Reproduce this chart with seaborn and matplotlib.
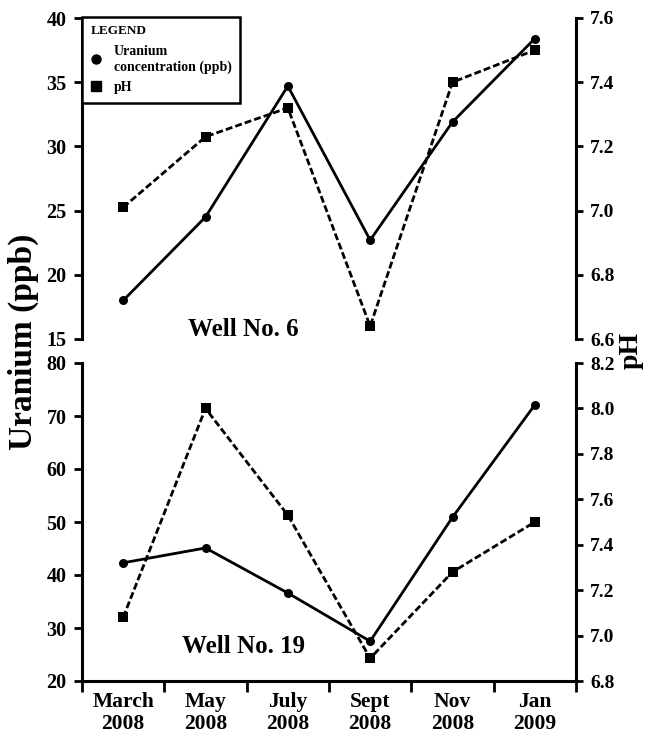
import numpy as np
import pandas as pd
import matplotlib
matplotlib.use("Agg")
import matplotlib.pyplot as plt
from matplotlib.lines import Line2D
import seaborn as sns

months = ["March\n2008", "May\n2008", "July\n2008", "Sept\n2008", "Nov\n2008", "Jan\n2009"]
well6_uranium = [18.0, 24.5, 34.7, 22.7, 31.9, 38.4]
well6_ph = [7.01, 7.23, 7.32, 6.64, 7.40, 7.50]
well19_uranium = [42.3, 45.1, 36.6, 27.5, 50.9, 72.1]
well19_ph = [7.08, 8.00, 7.53, 6.90, 7.28, 7.50]

sns.set_style("ticks")
plt.rcParams['font.family'] = ['Liberation Serif', 'DejaVu Serif']
plt.rcParams['font.weight'] = 'bold'
for k in ["text.color", "axes.labelcolor", "xtick.color", "ytick.color", "axes.edgecolor"]:
    plt.rcParams[k] = "black"

fig = plt.figure(figsize=(6.65, 7.44), dpi=100)
W, H = 665, 744
L, R = 82, 576

def add_ax(top, bottom):
    return fig.add_axes([L / W, 1 - bottom / H, (R - L) / W, (bottom - top) / H])

ax_top = add_ax(18, 339)
ax_bot = add_ax(363, 681)

pos = np.arange(len(months))
dash = (0, (2.5, 1.1))

def draw(ax, u, ph, ylim_u, ticks_u, ylim_ph, ticks_ph, show_x):
    df = pd.DataFrame({"x": pos, "u": u, "ph": ph})
    sns.lineplot(data=df, x="x", y="u", ax=ax, color="black", lw=2.0,
                 marker="o", markersize=6.5, markeredgewidth=0)
    ax2 = ax.twinx()
    sns.lineplot(data=df, x="x", y="ph", ax=ax2, color="black", lw=2.0,
                 linestyle=dash, marker="s", markersize=7, markeredgewidth=0)
    ax.set_xlim(-0.5, len(months) - 0.5)
    ax.set_ylim(*ylim_u)
    ax.set_yticks(ticks_u)
    ax2.set_ylim(*ylim_ph)
    ax2.set_yticks(ticks_ph)
    ax2.set_yticklabels([f"{t:.1f}" for t in ticks_ph])
    for a in (ax, ax2):
        a.set_xlabel("")
        a.set_ylabel("")
        a.spines["top"].set_visible(False)
        for s in a.spines.values():
            s.set_linewidth(2.2)
            s.set_color("black")
    ax.tick_params(axis="y", length=6, width=2, labelsize=14.5, pad=5)
    ax2.tick_params(axis="y", length=5, width=2, labelsize=14, pad=5)
    ax2.spines["left"].set_visible(False)
    ax2.spines["bottom"].set_visible(False)
    ax.spines["right"].set_visible(False)
    if show_x:
        ax.set_xticks(pos)
        ax.set_xticklabels(months, fontsize=15.5, linespacing=1.1)
        ax.set_xticks(np.arange(len(months) + 1) - 0.5, minor=True)
        ax.tick_params(axis="x", which="major", length=0, pad=8)
        ax.tick_params(axis="x", which="minor", length=8, width=2)
    else:
        ax.spines["bottom"].set_visible(False)
        ax.set_xticks([])
    return ax2

draw(ax_top, well6_uranium, well6_ph, (15, 40), [15, 20, 25, 30, 35, 40],
     (6.6, 7.6), [6.6, 6.8, 7.0, 7.2, 7.4, 7.6], False)
draw(ax_bot, well19_uranium, well19_ph, (20, 80), [20, 30, 40, 50, 60, 70, 80],
     (6.8, 8.2), [6.8, 7.0, 7.2, 7.4, 7.6, 7.8, 8.0, 8.2], True)

ax_top.text(0.214, 0.01, "Well No. 6", transform=ax_top.transAxes,
            fontsize=18, fontweight="bold", ha="left", va="baseline")
ax_bot.text(0.203, 0.088, "Well No. 19", transform=ax_bot.transAxes,
            fontsize=18, fontweight="bold", ha="left", va="baseline")

fig.text(23 / W, 1 - 342 / H, "Uranium (ppb)", rotation=90, fontsize=24,
         fontweight="bold", ha="center", va="center")
fig.text(631 / W, 1 - 350 / H, "pH", rotation=90, fontsize=20,
         fontweight="bold", ha="center", va="center")

handles = [Line2D([], [], color="black", marker="o", ls="none", markersize=6.5),
           Line2D([], [], color="black", marker="s", ls="none", markersize=6.5)]
leg = ax_top.legend(handles, ["Uranium\nconcentration (ppb)", "pH"],
                    title="LEGEND", loc="upper left", bbox_to_anchor=(0, 1.003),
                    borderaxespad=0, fancybox=False, frameon=True,
                    prop={"family": "Liberation Serif", "weight": "bold", "size": 10},
                    title_fontproperties={"family": "Liberation Serif", "weight": "bold", "size": 9.5},
                    alignment="left", handlelength=0.8, handletextpad=0.9,
                    labelspacing=0.55, borderpad=0.6)
leg.get_frame().set_edgecolor("black")
leg.get_frame().set_linewidth(1.8)
leg.get_frame().set_alpha(1)

fig.savefig("out.png", dpi=100)
